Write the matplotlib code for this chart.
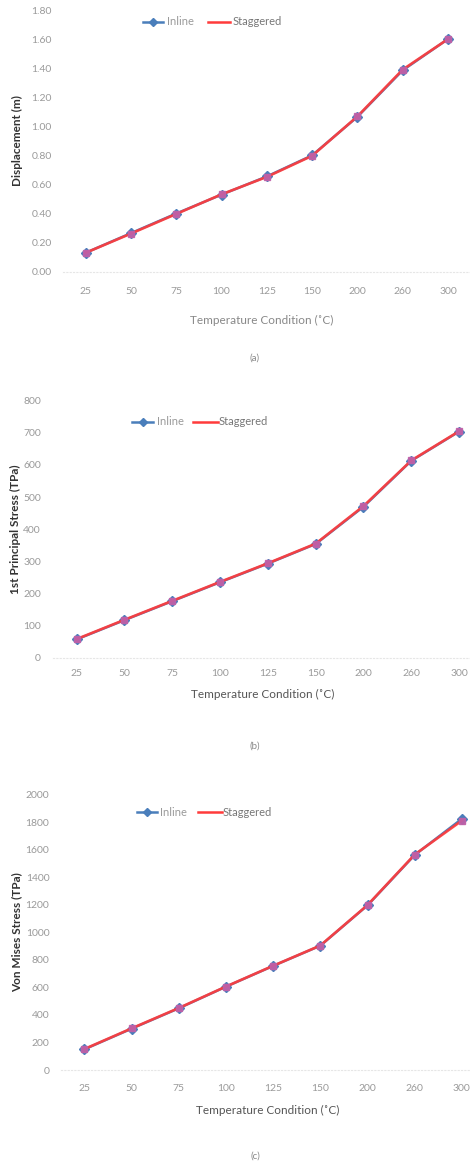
import matplotlib
matplotlib.use("Agg")
import matplotlib.pyplot as plt

plt.rcParams['font.family'] = ['Lato', 'DejaVu Sans']

temps = ["25", "50", "75", "100", "125", "150", "200", "260", "300"]

disp_inline = [0.13, 0.265, 0.40, 0.53, 0.655, 0.80, 1.065, 1.385, 1.60]
disp_staggered = [0.13, 0.262, 0.397, 0.532, 0.652, 0.797, 1.068, 1.39, 1.60]

p1_inline = [57, 117, 176, 235, 293, 354, 470, 613, 704]
p1_staggered = [58, 118, 177, 236, 294, 355, 472, 614, 705]

vm_inline = [150, 300, 448, 605, 756, 903, 1196, 1562, 1825]
vm_staggered = [152, 302, 450, 606, 757, 904, 1198, 1565, 1812]

W, H = 470, 1167
fig = plt.figure(figsize=(W / 100, H / 100), dpi=100)

BLUE = '#4a7ebb'
RED = '#ff3b3b'
PINK = '#c060a8'
TICK = '#9a9a9a'


def add_panel(left, top, right, bottom, ylim, yticks, yfmt, inline, stag,
              ylabel, ylabel_x, xtick_pad, ytick_pad, xlabel_y, xlabel_color,
              panel, panel_y, leg):
    ax = fig.add_axes([left / W, 1 - bottom / H, (right - left) / W, (bottom - top) / H])
    x = list(range(len(temps)))
    ax.plot(x, inline, color=BLUE, lw=1.8, marker='D', ms=5.5, mfc=BLUE, mec=BLUE, zorder=3)
    ax.plot(x, stag, color=RED, lw=1.9, marker='s', ms=4.5, mfc=PINK, mec=PINK, alpha=0.92, zorder=4)
    ax.set_xlim(-0.5, len(temps) - 0.5)
    ax.set_ylim(*ylim)
    ax.set_xticks(x)
    ax.set_xticklabels(temps)
    ax.set_yticks(yticks)
    ax.set_yticklabels([yfmt.format(v) for v in yticks])
    for s in ['top', 'right', 'left']:
        ax.spines[s].set_visible(False)
    ax.spines['bottom'].set_color('#e6e6e6')
    ax.spines['bottom'].set_linestyle((0, (1, 2)))
    ax.tick_params(axis='x', length=0, pad=xtick_pad, labelsize=7.5, labelcolor=TICK)
    ax.tick_params(axis='y', length=0, pad=ytick_pad, labelsize=7.5, labelcolor=TICK)
    ax.patch.set_alpha(0)
    fig.text(ylabel_x / W, 1 - ((top + bottom) / 2) / H, ylabel, rotation=90,
             ha='center', va='center', fontsize=8.5, fontweight='bold', color='#333333')
    fig.text(((left + right) / 2 - 5) / W, 1 - xlabel_y / H,
             'Temperature Condition (\u02daC)', ha='center', va='center',
             fontsize=8.5, color=xlabel_color)
    fig.text(255 / W, 1 - panel_y / H, panel, ha='center', va='center', fontsize=7, color='#888888')
    ly, x1, x2, xt1, x3, x4, xt2 = leg
    fy = 1 - ly / H
    fig.add_artist(plt.Line2D([x1 / W, x2 / W], [fy, fy], color=BLUE, lw=1.8))
    fig.add_artist(plt.Line2D([(x1 + x2) / 2 / W], [fy], color=BLUE, marker='D', ms=4))
    fig.text(xt1 / W, fy, 'Inline', ha='left', va='center', fontsize=8, color=TICK)
    fig.add_artist(plt.Line2D([x3 / W, x4 / W], [fy, fy], color=RED, lw=1.8))
    fig.text(xt2 / W, fy, 'Staggered', ha='left', va='center', fontsize=8, color='#777777')
    return ax


add_panel(63, 10, 470.6, 271.7, (0, 1.8), [0, 0.2, 0.4, 0.6, 0.8, 1.0, 1.2, 1.4, 1.6, 1.8],
          '{:.2f}', disp_inline, disp_staggered, 'Displacement (m)', 17, 11.0, 8.0,
          320, '#888888', '(a)', 358, (21.7, 143, 163, 167, 208, 230, 233))

add_panel(52.8, 400.7, 483, 657.7, (0, 800), list(range(0, 801, 100)),
          '{:d}', p1_inline, p1_staggered, '1st Principal Stress (TPa)', 15, 8.2, 8.5,
          694, '#555555', '(b)', 745.7, (421.7, 132, 153, 157, 193, 218, 219))

add_panel(60.7, 794.7, 485.5, 1070, (0, 2000), list(range(0, 2001, 200)),
          '{:d}', vm_inline, vm_staggered, 'Von Mises Stress (TPa)', 17, 10.0, 8.2,
          1110, '#555555', '(c)', 1156, (812.3, 137, 157, 160, 198, 222, 223))

fig.savefig('out.png', dpi=100)
